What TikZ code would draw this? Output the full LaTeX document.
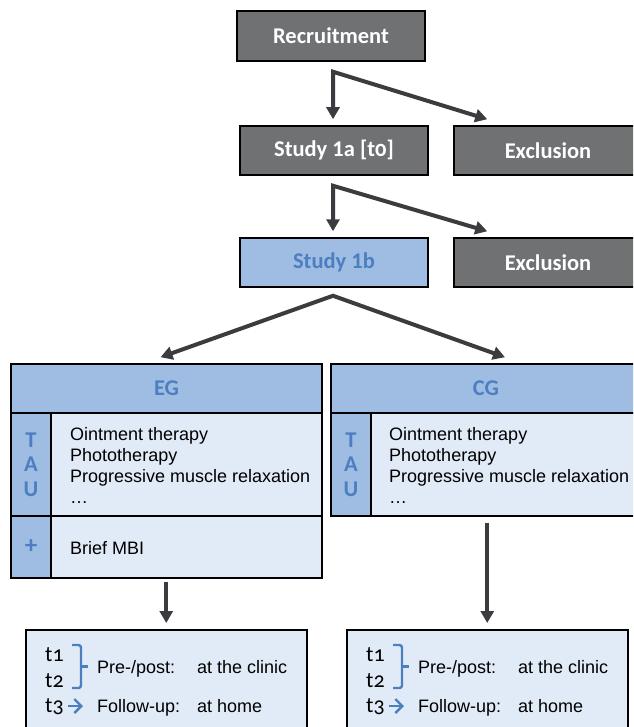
\documentclass[tikz,border=0pt]{standalone}
\usepackage{fontspec}
\setmainfont{Liberation Sans}
\newfontfamily\calfont{Carlito}
\newfontfamily\caloldfont{Carlito}[Numbers=OldStyle]
\usetikzlibrary{arrows.meta}
\definecolor{gbox}{HTML}{6F7173}
\definecolor{hblue}{HTML}{9FBCE3}
\definecolor{lblue}{HTML}{E1EBF7}
\definecolor{tblue}{HTML}{4D7FC0}
\definecolor{arrc}{HTML}{3A3C3F}
\tikzset{
  graybox/.style={draw=black, line width=1.5pt, fill=gbox, minimum width=188pt, minimum height=49pt, inner sep=0pt, text=white, font=\calfont\bfseries\fontsize{22.5}{26}\selectfont},
  bluebox/.style={graybox, fill=hblue, text=tblue},
  hdrcell/.style={draw=black, line width=1.5pt, fill=hblue, inner sep=0pt, text=tblue, font=\calfont\bfseries\fontsize{22.5}{24.5}\selectfont, align=center},
  sidecell/.style={hdrcell},
  bodycell/.style={draw=black, line width=1.5pt, fill=lblue, inner sep=0pt},
  bodytext/.style={anchor=base west, inner sep=0pt, font=\fontsize{18}{21}\selectfont},
  tlabel/.style={anchor=base west, inner sep=0pt, font=\caloldfont\fontsize{22}{24}\selectfont},
  arr/.style={draw=arrc, line width=4pt, line join=miter},
  bluemark/.style={draw=tblue, line width=2.4pt, line join=round},
}
\begin{document}
\begin{tikzpicture}[x=1pt,y=-1pt]
\useasboundingbox (0,0) rectangle (633,727);
\clip (0,0) rectangle (633,727);
\fill[white] (0,0) rectangle (633,727);

% top flow
\node[graybox, minimum height=50pt] (rec) at (331,36) {Recruitment};
\node[graybox] (s1a) at (334,150.5) {Study 1a [t{\addfontfeature{Numbers=OldStyle}0}]};
\node[graybox] (ex1) at (548,150.5) {Exclusion};
\node[bluebox] (s1b) at (334,262.5) {Study 1b};
\node[graybox] (ex2) at (548,262.5) {Exclusion};

\coordinate (c1) at ([xshift=0pt,yshift=-10pt]rec.south);
\coordinate (c1a) at ([xshift=-1pt,yshift=6pt]s1a.north);
\coordinate (c1b) at ([xshift=34pt,yshift=6pt]ex1.north west);
\draw[arr, {Triangle[length=12pt,width=13pt]}-{Triangle[length=12pt,width=13pt]}] (c1a) -- (c1a|-c1) -- (c1b);

\coordinate (c2) at ([xshift=-1pt,yshift=-10pt]s1a.south);
\coordinate (c2a) at ([xshift=-1pt,yshift=6pt]s1b.north);
\coordinate (c2b) at ([xshift=34pt,yshift=6pt]ex2.north west);
\draw[arr, {Triangle[length=12pt,width=13pt]}-{Triangle[length=12pt,width=13pt]}] (c2a) -- (c2) -- (c2b);

% EG table
\node[hdrcell, minimum width=311pt, minimum height=49pt] (egh) at (166.5,388.5) {EG};
\node[bodycell, minimum width=271pt, minimum height=103pt] (egtr) at (186.5,464.5) {};
\node[sidecell, minimum width=40pt, minimum height=103pt] (egtl) at (31,464.5) {T\\A\\U};
\node[bodycell, minimum width=271pt, minimum height=62pt] (egpr) at (186.5,547) {};
\node[sidecell, minimum width=40pt, minimum height=62pt, font=\calfont\bfseries\fontsize{25}{26}\selectfont] (egpl) at (31,547) {+};
\node[bodytext] (eg1) at (70,440) {Ointment therapy};
\node[bodytext] (eg2) at (70,461) {Phototherapy};
\node[bodytext] (eg3) at (70,482) {Progressive muscle relaxation};
\node[bodytext] (eg4) at (70,503.5) {\dots};
\node[bodytext] (eg5) at (70,554) {Brief MBI};

% CG table
\node[hdrcell, minimum width=310pt, minimum height=49pt] (cgh) at (486,388.5) {CG};
\node[bodycell, minimum width=270pt, minimum height=103pt] (cgtr) at (506,464.5) {};
\node[sidecell, minimum width=40pt, minimum height=103pt] (cgtl) at (351,464.5) {T\\A\\U};
\node[bodytext] (cg1) at (389,440) {Ointment therapy};
\node[bodytext] (cg2) at (389,461) {Phototherapy};
\node[bodytext] (cg3) at (389,482) {Progressive muscle relaxation};
\node[bodytext] (cg4) at (389,503.5) {\dots};

% split arrows
\coordinate (apex) at ([xshift=-1pt,yshift=-8pt]s1b.south);
\coordinate (egtip) at ([xshift=-6pt,yshift=6pt]egh.north);
\coordinate (cgtip) at ([xshift=19pt,yshift=6pt]cgh.north);
\draw[arr, {Triangle[length=12pt,width=13pt]}-{Triangle[length=12pt,width=13pt]}] (egtip) -- (apex) -- (cgtip);

% bottom boxes
\node[bodycell, minimum width=281pt, minimum height=112pt, anchor=north west] (egb) at (25,629) {};
\node[bodycell, minimum width=281pt, minimum height=112pt, anchor=north west] (cgb) at (346,629) {};

\coordinate (egs) at ([yshift=-3pt]egb.north |- egpr.south);
\coordinate (cgs) at ([yshift=-6pt]cgb.north |- cgtr.south);
\draw[arr, -{Triangle[length=12pt,width=13pt]}] (egs) -- ([yshift=6pt]egb.north);
\draw[arr, -{Triangle[length=12pt,width=13pt]}] (cgs) -- ([yshift=6pt]cgb.north);

% bottom contents
\foreach \dx/\nm in {0/l, 321/r}{
  \begin{scope}[xshift=\dx pt]
    \node[tlabel] (t1\nm) at (45,661) {t1};
    \node[tlabel] (t2\nm) at (45,687) {t2};
    \node[tlabel] (t3\nm) at (45,712) {t3};
    \coordinate (br1\nm) at (72,645);
    \coordinate (br2\nm) at (72,688);
    \draw[bluemark, rounded corners=2.5pt] (br1\nm) -- (81,645) -- (81,688) -- (br2\nm);
    \draw[bluemark] (81,666.5) -- (88,666.5);
    \coordinate (ar1\nm) at (68,706);
    \coordinate (ar2\nm) at (83,706);
    \draw[bluemark, -{Straight Barb[length=7pt,width=14pt,line width=2.4pt]}] (ar1\nm) -- (ar2\nm);
    \node[bodytext] (pp\nm) at (97,673) {Pre-/post:};
    \node[bodytext] (pc\nm) at (197,673) {at the clinic};
    \node[bodytext] (fu\nm) at (97,712) {Follow-up:};
    \node[bodytext] (fh\nm) at (197,712) {at home};
  \end{scope}
}
\end{tikzpicture}
\end{document}
